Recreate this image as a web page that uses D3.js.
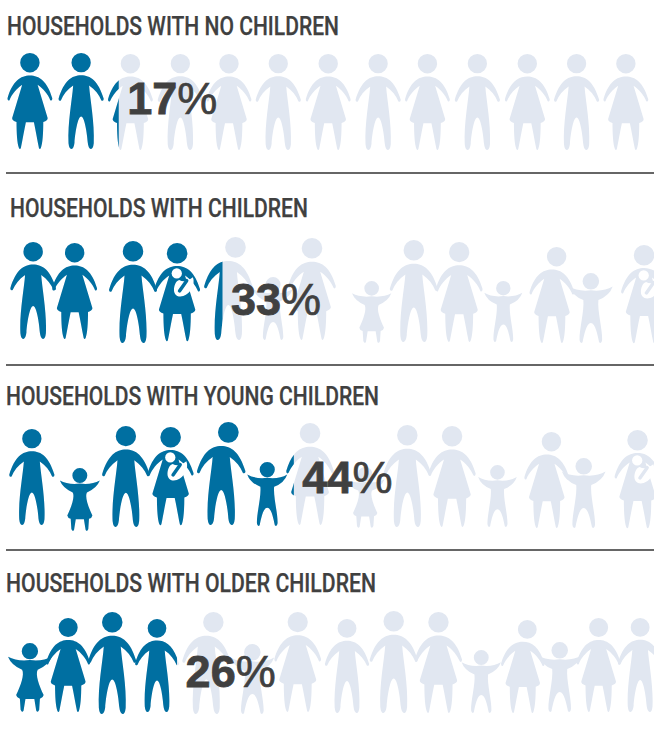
<!DOCTYPE html>
<html><head><meta charset="utf-8">
<script src="https://cdn.jsdelivr.net/npm/d3@7"></script>
<style>html,body{margin:0;padding:0;background:#fff}svg{display:block}</style>
</head><body><div id="c"></div>
<script>
const titles=["HOUSEHOLDS WITH NO CHILDREN","HOUSEHOLDS WITH CHILDREN","HOUSEHOLDS WITH YOUNG CHILDREN","HOUSEHOLDS WITH OLDER CHILDREN"];
const shares=[17,33,44,26];
// figure kinds: m man, n man looking aside, w woman, v woman looking aside, b mother with baby, g girl, k boy
const kinds1=["w","m","w","m","w","m","w","m","w","m","w","m","w"];
const kinds2=["m","w","m","b","n","k","w","g","m","w","k","v","k","b"];
const kinds3=["m","g","m","b","n","k","w","g","m","w","k","v","k","b"];
const kinds4=["g","w","m","m","n","k","w","m","m","w","k","v","k","w","m"];
// position of each figure along the 0-100 share axis
const along1=[3.3,11.2,18.8,26.5,34.0,41.6,49.3,57.0,64.6,72.3,80.0,87.6,95.2];
const along2=[3.8,10.2,19.2,26.0,33.9,40.8,46.8,56.0,62.5,69.5,76.3,83.8,89.8,98.0];
const along3=[3.6,11.0,18.1,25.0,32.8,39.9,46.5,55.0,61.5,68.4,75.4,83.0,88.7,97.0];
const along4=[3.3,9.2,16.0,22.9,30.5,37.6,44.6,52.2,59.4,66.3,72.9,79.3,85.0,91.0,97.4];
const stature1=[96,96,96,96,96,96,96,96,96,96,96,96,96];
const stature2=[97,96,102,100,103,63,102,62,102,100,61,96,70,100];
const stature3=[96,63,101,100,103,64,102,61,102,101,62,96,70,100];
const stature4=[69,94,102,93,102,70,100,94,102,101,63,93,70,94,94];
const foot1=[149,149,150,150,150,150,150,150,150,150,150,150,150];
const foot2=[339,339,343,343,340,340,340,343,342,342,342,343,343,345];
const foot3=[525,531,527,527,525,526,525,528,527,527,527,528,528,530];
const foot4=[712,712,714,712,714,714,712,713,713,713,713,713,712,712,712];

const W=654,H=730;
const blue="#006fa1",pale="#e1e7f1",ink="#404040";
const x=d3.scaleLinear().domain([0,100]).range([8.5,657]);
const y=d3.scaleLinear().domain([0,H]).range([0,H]);
const titleX=[7,10,6,6],titleY=[35,217,405,592],titleW=[332,298,373,370];
const rules=[173,365,550];
const pctY=[114,315,493,687];

function mirror(half){
  let d="M"+half.start.join(",");
  half.segs.forEach(s=>{d+=s[0]+s.slice(1).join(",")});
  const pts=[half.start];
  half.segs.forEach(s=>{const c=s.slice(1);pts.push([c[c.length-2],c[c.length-1]])});
  for(let i=half.segs.length-1;i>=0;i--){
    const s=half.segs[i],c=s.slice(1),p=pts[i],out=[];
    const n=c.length/2;
    for(let j=n-2;j>=0;j--){out.push(-c[2*j],c[2*j+1])}
    out.push(-p[0],p[1]);
    d+=s[0]+out.join(",");
  }
  return d+"Z";
}
const head=(cx,cy,r)=>`M${cx-r},${cy}a${r},${r} 0 1,0 ${2*r},0a${r},${r} 0 1,0 ${-2*r},0Z`;
const manBody=mirror({start:[0,67],segs:[
 ["C",28,67,52,84,68,138],["Q",68,146,61,143],["C",54,126,42,110,24,98],
 ["C",27,140,41,210,38,272],["Q",36,290,29,289],["Q",22,287,20,270],["C",18,240,10,191,0,191]]});
const womanBody=mirror({start:[0,67],segs:[
 ["C",28,67,52,84,67,135],["Q",67,144,61,141],["C",54,124,40,106,23,95],["L",53,194],
 ["Q",54,201,40,206],["C",40,240,38,270,33,283],["Q",30,290,27,284],["C",22,260,17,230,12,207],["L",0,207]]});
const girlBody=mirror({start:[0,46],segs:[
 ["Q",35,50,59,37],["Q",50,60,21,72],["C",14,85,25,115,37,140],["Q",36,147,27,150],["L",25,180],["Q",21,190,17,182],["L",12,151],["L",0,151]]});
const boyBody=mirror({start:[0,46],segs:[
 ["Q",35,50,58,36],["Q",50,60,20,72],["C",17,100,31,150,30,178],["Q",28,190,22,184],["C",18,165,12,133,0,133]]});
const shapes={
 m:{d:head(0,29,29)+manBody,h:289},
 n:{d:head(20,29,29)+manBody,h:289},
 w:{d:head(0,29,29)+womanBody,h:287},
 v:{d:head(14,29,29)+womanBody,h:287},
 b:{d:head(0,30,30)+womanBody,h:292},
 g:{d:head(0,22,22)+girlBody,h:186},
 k:{d:head(0,22,22)+boyBody,h:186}
};
const babyHead=[-1,89,15], sling="M46,100C54,118 40,148 18,155C0,160 -11,150 -9,132C-7,120 -2,110 6,108C20,116 34,110 46,100Z", slash="M28,110L7,140";

const svg=d3.select("#c").append("svg").attr("width",W).attr("height",H).attr("viewBox",`0 0 ${W} ${H}`);
svg.append("rect").attr("width",W).attr("height",H).attr("fill","#fff");
const rows=[
 {k:kinds1,a:along1,s:stature1,f:foot1},{k:kinds2,a:along2,s:stature2,f:foot2},
 {k:kinds3,a:along3,s:stature3,f:foot3},{k:kinds4,a:along4,s:stature4,f:foot4}];
const defs=svg.append("defs");
rows.forEach((r,i)=>{
 defs.append("clipPath").attr("id","clip"+i).append("rect")
  .attr("x",0).attr("y",0).attr("width",x(shares[i])).attr("height",H);
 const items=r.k.map((k,j)=>({k,a:r.a[j],s:r.s[j],f:r.f[j]}));
 const layer=(g,fill)=>{
  const sel=g.selectAll("g").data(items).join("g")
   .attr("transform",d=>{const t=y(d.f)-y(d.s);const sc=d.s/shapes[d.k].h;return `translate(${x(d.a)},${t}) scale(${sc})`});
  sel.append("path").attr("d",d=>shapes[d.k].d).attr("fill",fill);
  const bb=sel.filter(d=>d.k==="b");
  bb.append("circle").attr("cx",babyHead[0]).attr("cy",babyHead[1]).attr("r",babyHead[2]).attr("fill","#fff");
  bb.append("path").attr("d",sling).attr("fill","#fff");
  bb.append("path").attr("d",slash).attr("stroke",fill).attr("stroke-width",10).attr("stroke-linecap","round").attr("fill","none");
 };
 layer(svg.append("g").attr("class","pale"),pale);
 layer(svg.append("g").attr("class","dark").attr("clip-path",`url(#clip${i})`),blue);
});
svg.selectAll("line.rule").data(rules).join("line").attr("class","rule")
 .attr("x1",6).attr("x2",654).attr("y1",d=>d).attr("y2",d=>d).attr("stroke","#333").attr("stroke-width",1.4);
svg.selectAll("text.title").data(titles).join("text").attr("class","title")
 .attr("x",(d,i)=>titleX[i]).attr("y",(d,i)=>titleY[i])
 .attr("textLength",(d,i)=>titleW[i]).attr("lengthAdjust","spacingAndGlyphs")
 .attr("font-family","'Roboto',sans-serif").attr("font-weight",500)
 .attr("stroke",ink).attr("stroke-width",0.25)
 .attr("font-size",25.5).attr("fill",ink).text(d=>d);
const pct=svg.selectAll("text.pct").data(shares).join("text").attr("class","pct")
 .attr("x",d=>x(d)+8.5).attr("y",(d,i)=>pctY[i])
 .attr("font-family","'Liberation Sans',Arial,sans-serif")
 .attr("font-size",45).attr("fill",ink);
pct.append("tspan").attr("font-weight",700).attr("stroke",ink).attr("stroke-width",0.8).text(d=>d);
pct.append("tspan").attr("font-weight",400).attr("stroke",ink).attr("stroke-width",0.7).text("%");
</script></body></html>
